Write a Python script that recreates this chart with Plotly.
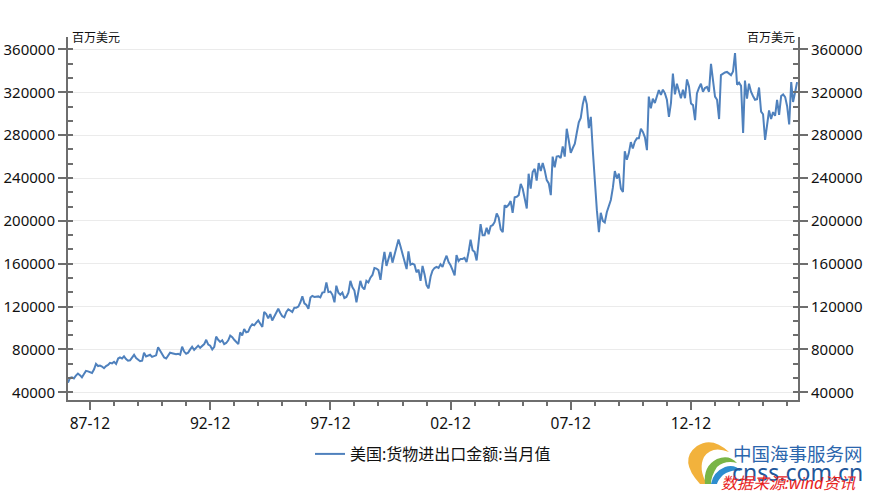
import plotly.graph_objects as go
import pandas as pd

# ---- data (monthly, million USD) ----
v1987 = [49000, 53500, 54000, 53000, 55500, 57500, 56000, 54000, 57000, 60000, 59500, 59000]
v1988 = [58000, 61500, 66500, 64500, 65000, 64000, 62500, 64500, 65500, 67500, 67000, 68500]
v1989 = [66500, 71500, 72500, 71500, 73500, 71000, 69500, 69800, 72500, 75000, 72000, 70500]
v1990 = [69000, 69500, 77000, 73500, 74000, 75000, 73000, 74000, 74500, 82000, 78500, 75000]
v1991 = [72500, 71500, 74000, 77000, 76500, 76000, 75500, 76000, 75000, 82500, 78000, 76000]
v1992 = [77000, 80000, 82500, 79500, 82000, 83500, 81500, 83500, 85000, 89000, 84500, 83500]
v1993 = [80000, 82500, 92000, 89000, 87000, 88500, 85000, 86000, 88500, 93000, 91500, 89000]
v1994 = [87000, 85000, 96000, 93000, 99000, 96000, 96500, 101000, 103500, 102500, 105000, 107000]
v1995 = [104000, 101000, 115000, 113000, 109000, 113000, 107000, 111000, 115000, 118000, 114000, 111000]
v1996 = [110000, 115000, 117500, 116000, 115000, 119000, 119000, 120000, 124000, 129500, 123000, 121500]
v1997 = [118000, 128500, 130000, 129000, 129000, 129500, 128500, 133000, 133500, 142500, 133500, 134000]
v1998 = [131000, 124000, 139500, 133000, 131000, 133000, 128000, 129000, 133000, 144000, 138000, 135000]
v1999 = [124000, 133000, 144000, 138000, 136000, 144000, 142500, 147000, 149500, 156000, 155500, 154000]
v2000 = [145000, 160000, 171000, 158000, 165500, 171000, 161000, 168500, 175000, 182500, 176000, 168500]
v2001 = [163000, 155000, 171500, 159000, 160000, 159000, 152000, 154500, 144000, 158000, 150000, 140000]
v2002 = [137000, 148000, 153500, 156000, 157000, 156000, 159500, 157000, 163000, 167500, 161500, 158500]
v2003 = [154000, 149000, 168000, 162500, 164500, 164500, 165500, 161500, 171000, 182500, 172500, 171000]
v2004 = [163000, 180000, 197000, 186500, 186500, 193500, 187500, 195000, 196000, 199000, 207000, 203000]
v2005 = [192000, 189500, 214500, 213000, 215000, 218500, 207500, 222000, 222500, 224000, 234500, 230000]
v2006 = [219000, 211500, 244000, 230000, 245500, 248500, 237500, 254000, 246500, 254000, 247000, 238000]
v2007 = [235000, 224000, 260000, 250000, 260000, 260500, 258500, 269500, 260000, 286000, 275000, 263500]
v2008 = [268000, 272000, 282000, 292000, 296000, 309000, 316500, 309000, 286500, 297000, 265000, 235000]
v2009 = [210000, 189500, 207500, 200000, 198500, 208000, 215000, 219500, 231000, 246500, 239500, 244000]
v2010 = [230000, 227000, 265000, 257000, 263000, 273500, 267500, 274000, 277000, 277000, 286000, 283000]
v2011 = [278000, 266000, 316000, 305000, 314000, 310000, 316000, 322000, 317500, 322500, 319000, 313000]
v2012 = [297000, 310000, 337500, 318000, 328000, 322000, 314500, 322500, 314500, 332000, 325500, 309500]
v2013 = [308000, 294000, 319000, 324000, 328000, 320500, 324000, 325000, 320500, 346500, 331500, 316000]
v2014 = [313000, 295000, 336000, 337500, 338500, 339000, 337500, 336000, 339500, 356500, 327000, 329000]
v2015 = [326000, 282000, 331000, 314000, 328000, 320500, 316500, 313000, 313500, 324500, 302000, 299500]
v2016 = [275500, 289000, 303000, 295000, 301500, 298000, 313000, 299000, 316500, 318000, 315500, 307000]
v2017 = [290000, 329500, 311000, 320000, 329500]

values = (v1987 + v1988 + v1989 + v1990 + v1991 + v1992 + v1993 + v1994 + v1995 + v1996
          + v1997 + v1998 + v1999 + v2000 + v2001 + v2002 + v2003 + v2004 + v2005 + v2006
          + v2007 + v2008 + v2009 + v2010 + v2011 + v2012 + v2013 + v2014 + v2015 + v2016 + v2017)
dates = pd.date_range("1987-01-01", periods=len(values), freq="MS")

series_name = "美国:货物进出口金额:当月值"
unit_label = "百万美元"

# ---- figure geometry ----
W, H = 874, 492
L, R, T, B = 68, 76, 37, 92
PW, PH = W - L - R, H - T - B

def px(x):
    return (x - L) / PW

def py(y):
    return (H - B - y) / PH

FONT = "Noto Sans, Noto Sans CJK SC, sans-serif"
AXC = "#6e6e6e"
YR = [32800, 371600]

fig = go.Figure()
fig.add_trace(go.Scatter(x=dates, y=values, mode="lines", name=series_name,
                         line=dict(color="#4f81bd", width=2), yaxis="y"))
fig.add_trace(go.Scatter(x=dates, y=values, mode="lines", showlegend=False,
                         line=dict(color="rgba(0,0,0,0)", width=0), hoverinfo="skip",
                         yaxis="y2"))

yax = dict(range=YR, tick0=0, dtick=40000, tickformat="d", ticks="outside", ticklen=8,
           tickwidth=2, tickcolor=AXC, showline=True, linewidth=2, linecolor=AXC,
           zeroline=False, automargin=False,
           tickfont=dict(family=FONT, size=15, color="#111"),
           minor=dict(tick0=40000, dtick=40000 / 3, ticks="inside", ticklen=5,
                      tickwidth=2, tickcolor=AXC, showgrid=False))

fig.update_layout(
    width=W, height=H, margin=dict(l=L, r=R, t=T, b=B, autoexpand=False),
    paper_bgcolor="white", plot_bgcolor="white",
    font=dict(family=FONT, color="#111"),
    xaxis=dict(range=["1987-01-01", "2017-05-15"], type="date",
               tick0="1987-12-01", dtick="M60", tickformat="%y-%m",
               ticks="outside", ticklen=8, tickwidth=2, tickcolor=AXC,
               showline=True, linewidth=2, linecolor=AXC, showgrid=False,
               zeroline=False, automargin=False,
               tickfont=dict(family=FONT, size=15.5, color="#111"),
               minor=dict(tick0="1987-12-01", dtick="M12", ticks="outside",
                          ticklen=4, tickwidth=2, tickcolor=AXC, showgrid=False)),
    yaxis=dict(side="left", showgrid=True, gridcolor="#ebebeb", gridwidth=1, **yax),
    yaxis2=dict(side="right", overlaying="y", showgrid=False, **yax),
    legend=dict(orientation="h", x=0.5, xanchor="center", y=py(454), yanchor="middle",
                font=dict(family=FONT, size=16, color="#111"), itemwidth=30),
    showlegend=True,
)

ann = [
    dict(x=px(70), y=1, xanchor="left", yanchor="middle", text=unit_label,
         font=dict(size=12, color="#111")),
    dict(x=px(797), y=1, xanchor="right", yanchor="middle", text=unit_label,
         font=dict(size=12, color="#111")),
    dict(x=px(731), y=py(453), xanchor="left", yanchor="middle", text="中国海事服务网",
         font=dict(family="Noto Sans CJK SC", size=18.5, color="#2b66ad")),
    dict(x=px(730), y=py(472), xanchor="left", yanchor="middle", text="cnss.com.cn",
         font=dict(family="Noto Sans", size=23, color="#22579a")),
    dict(x=px(719), y=py(483), xanchor="left", yanchor="middle", text="数据来源:wind资讯",
         font=dict(family=FONT, size=16, color="#e8231d", style="italic")),
]
for a in ann:
    a.update(xref="paper", yref="paper", showarrow=False)
fig.update_layout(annotations=ann)

def path(pts):
    s = ""
    for cmd, *xy in pts:
        s += cmd
        s += " ".join(f"{px(xy[i]):.5f},{py(xy[i+1]):.5f}" for i in range(0, len(xy), 2)) + " "
    return s + "Z"

logo = [
    ([("M", 700, 484), ("Q", 678, 460, 697, 446), ("Q", 712, 436, 729, 452),
      ("Q", 712, 445, 704, 457), ("Q", 698, 469, 707, 484)], "#f2b23c"),
    ([("M", 705, 484), ("Q", 703, 466, 717, 459), ("Q", 729, 454, 737, 463),
      ("Q", 725, 460, 717, 467), ("Q", 711, 476, 711, 484)], "#79b546"),
    ([("M", 711, 484), ("Q", 713, 472, 725, 467), ("Q", 735, 464, 741, 471),
      ("Q", 731, 469, 723, 475), ("Q", 718, 480, 717, 484)], "#2d8dcf"),
]
fig.update_layout(shapes=[dict(type="path", xref="paper", yref="paper", path=path(p),
                               fillcolor=c, line=dict(width=0), layer="above")
                          for p, c in logo])

fig.write_html("out.html", config={"displayModeBar": False},
               post_script="document.body.style.margin='0';document.body.style.overflow='hidden';")
